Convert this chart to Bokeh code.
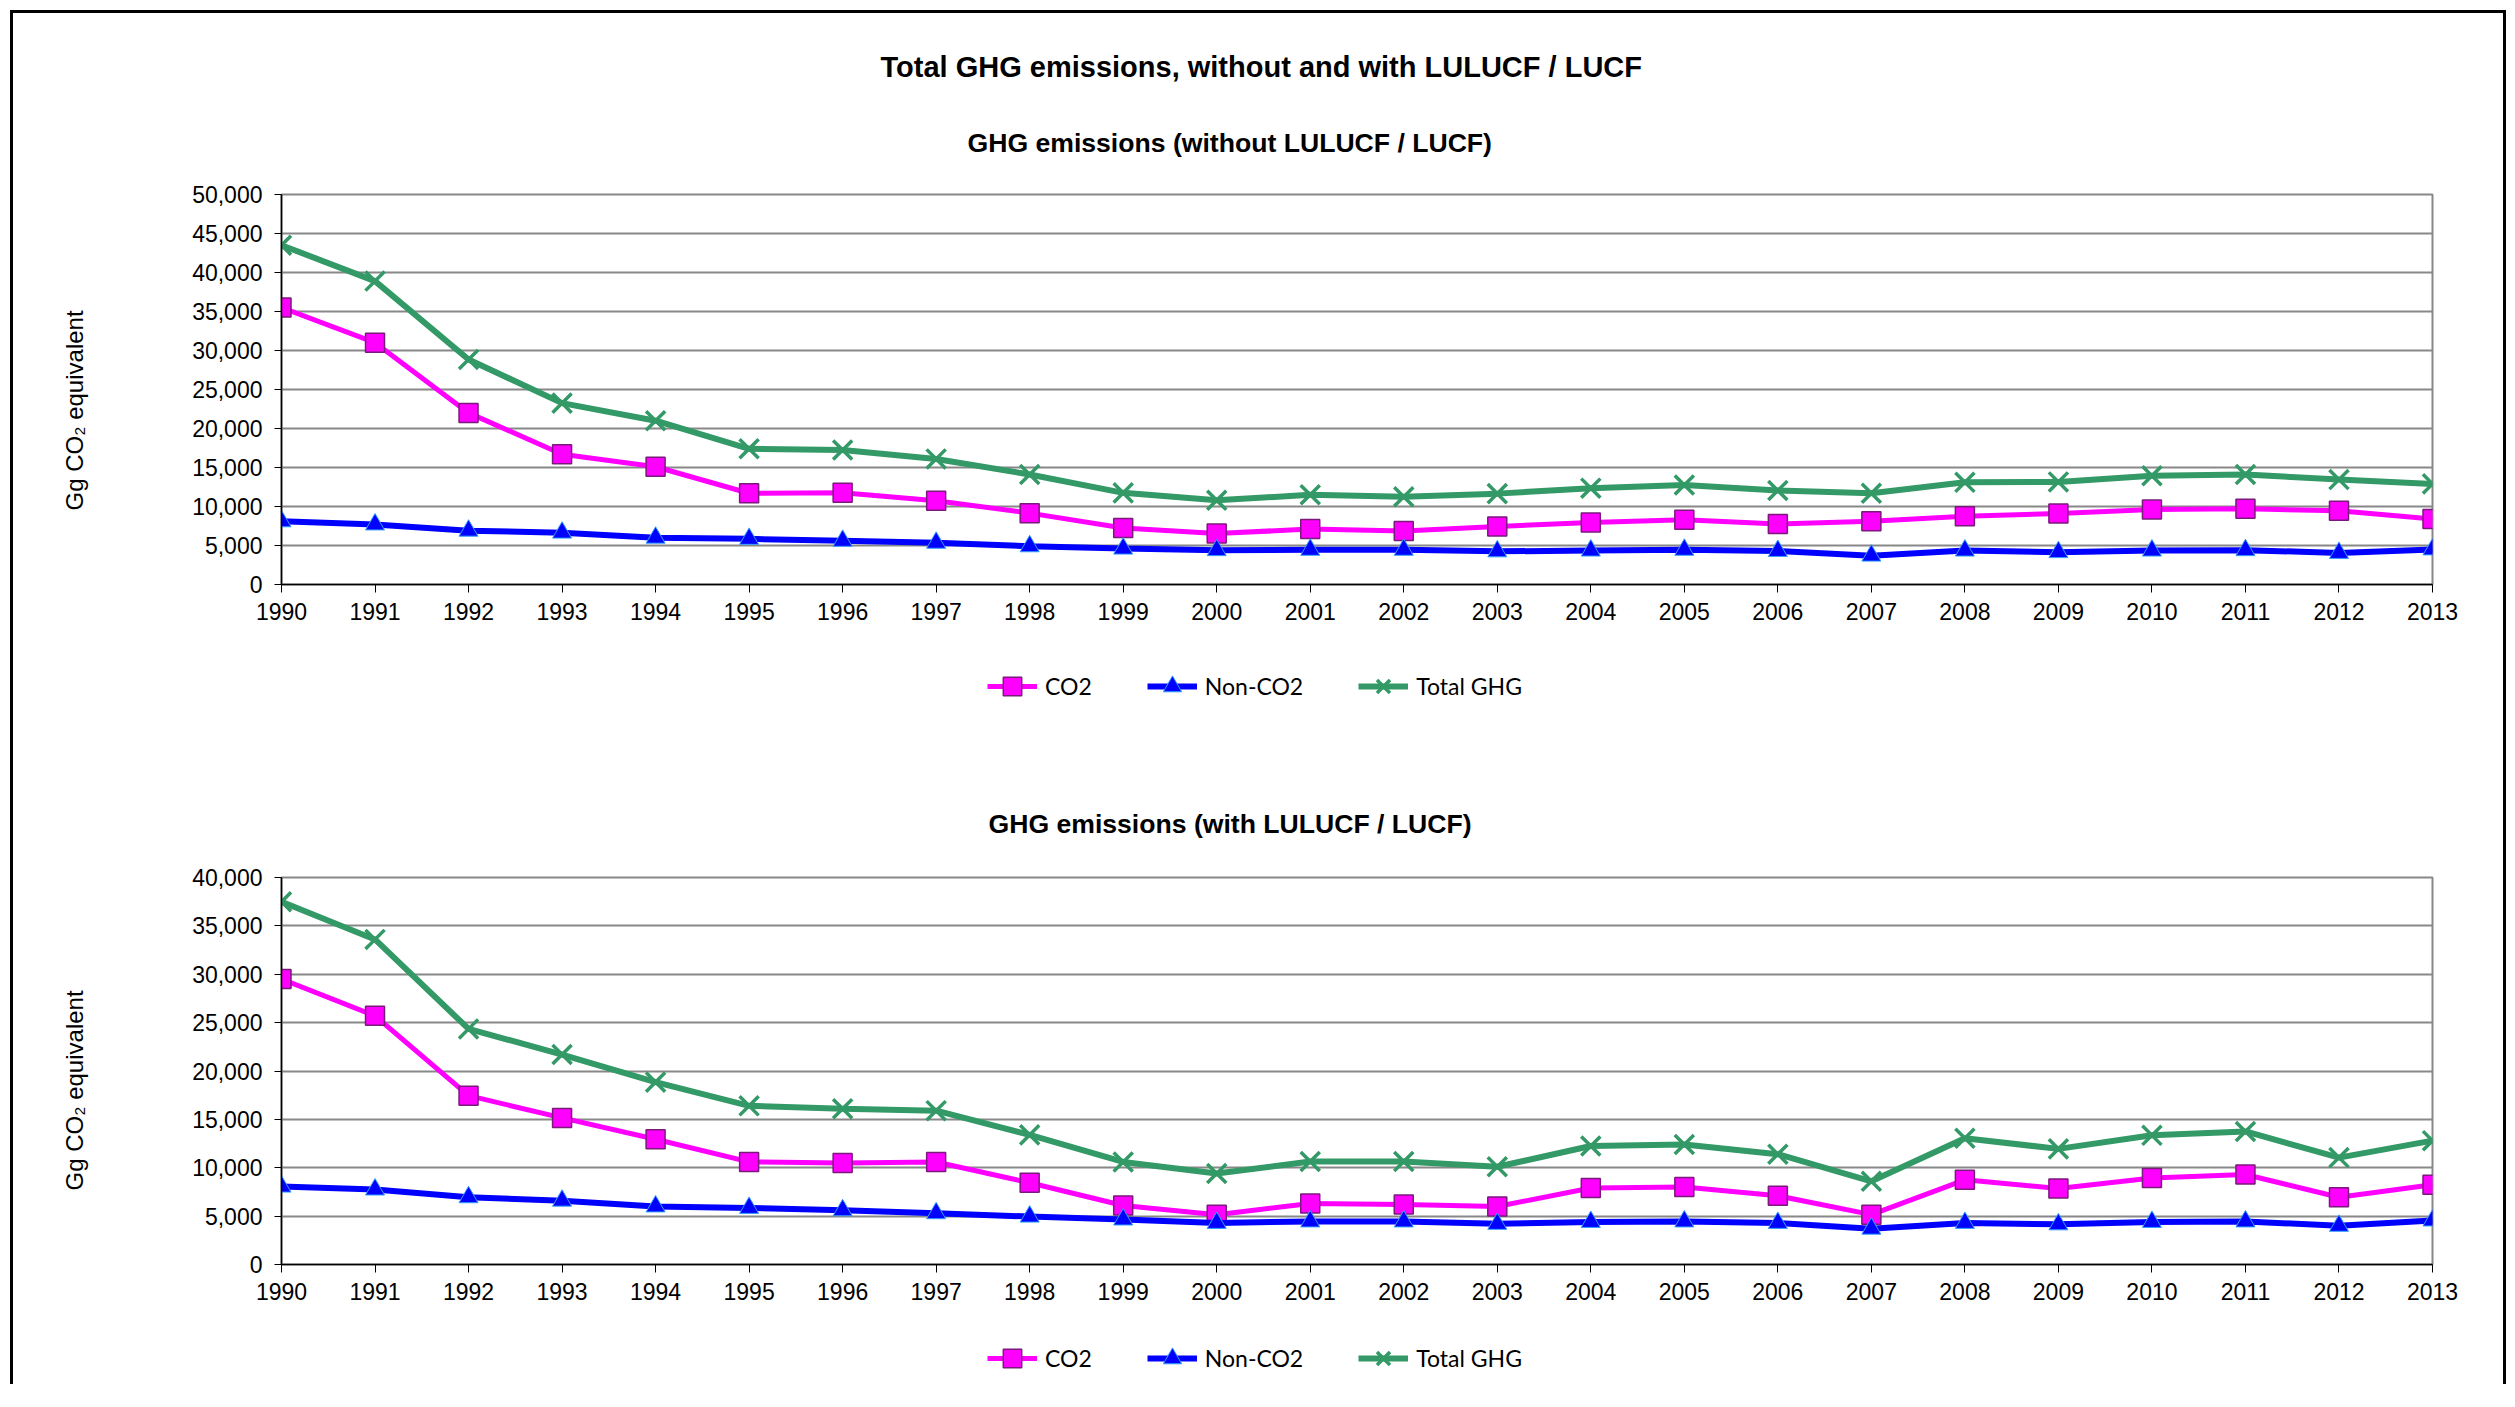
from bokeh.plotting import figure
from bokeh.models import Range1d, FixedTicker, NumeralTickFormatter, Legend, LegendItem, Title
from bokeh.layouts import column
from bokeh.embed import file_html
from bokeh.resources import INLINE

years = list(range(1990, 2014))

co2_without = [35500, 31000, 22000, 16700, 15100, 11700, 11750, 10750, 9150, 7250, 6550, 7100,
               6850, 7450, 7950, 8300, 7750, 8100, 8750, 9100, 9600, 9700, 9450, 8400]
nonco2_without = [8100, 7700, 6900, 6650, 6000, 5850, 5600, 5350, 4900, 4600, 4400, 4450,
                  4450, 4250, 4350, 4450, 4300, 3700, 4350, 4150, 4350, 4400, 4050, 4500]
total_without = [43500, 38900, 28850, 23250, 21000, 17400, 17250, 16100, 14100, 11750, 10800, 11500,
                 11250, 11650, 12350, 12750, 12050, 11700, 13100, 13150, 13950, 14100, 13450, 12900]

co2_with = [29500, 25700, 17450, 15150, 12950, 10600, 10500, 10600, 8450, 6100, 5150, 6300,
            6200, 6000, 7900, 8000, 7100, 5150, 8750, 7850, 8950, 9300, 6950, 8250]
nonco2_with = [8050, 7750, 6950, 6600, 6000, 5850, 5600, 5300, 4950, 4650, 4300, 4450,
               4450, 4200, 4400, 4450, 4300, 3700, 4300, 4150, 4400, 4450, 4000, 4550]
total_with = [37500, 33600, 24350, 21700, 18850, 16400, 16100, 15900, 13400, 10600, 9400, 10650,
              10650, 10100, 12250, 12400, 11400, 8600, 13050, 11950, 13350, 13750, 11050, 12800]

series_labels = ["CO2", "Non-CO2", "Total GHG"]
main_title = "Total GHG emissions, without and with LULUCF / LUCF"
sub_title_1 = "GHG emissions (without LULUCF / LUCF)"
sub_title_2 = "GHG emissions (with LULUCF / LUCF)"
y_label = "Gg CO\u2082 equivalent"

FONT = "Liberation Sans"
W = 2490
X0 = 13                      # page x where the figures start
LEFT = 281 - X0
RIGHT = W - (2432 - X0)
GRID = "#888888"

CO2_STYLE = dict(line_color="#FF00FF", line_width=5)
CO2_MARK = dict(marker="square", size=19, fill_color="#FF00FF", line_color="#7A1A7A", line_width=1.5)
NON_STYLE = dict(line_color="#0000FF", line_width=6)
NON_MARK = dict(marker="triangle", size=19, fill_color="#0000FF", line_color="#33A0FF", line_width=1)
TOT_STYLE = dict(line_color="#339966", line_width=6)
TOT_MARK = dict(marker="x", size=27, line_color="#339966", line_width=3.5)


def make_chart(sub_title, sub_left, ymax, co2, non, tot, top, frame_h, bottom, sub_gap,
               main=None, main_gap=None, main_left=None):
    H = top + frame_h + bottom
    p = figure(width=W, height=H, title=None,
               x_range=Range1d(1990, 2013), y_range=Range1d(0, ymax),
               output_backend="svg", toolbar_location=None,
               min_border_left=LEFT, min_border_right=RIGHT,
               min_border_top=top, min_border_bottom=bottom,
               background_fill_color="white", border_fill_color="white")
    p.outline_line_color = GRID
    p.outline_line_width = 2

    p.xgrid.visible = False
    p.ygrid.ticker = FixedTicker(ticks=list(range(0, ymax + 1, 5000)))
    p.ygrid.grid_line_color = GRID
    p.ygrid.grid_line_width = 2

    p.yaxis.ticker = FixedTicker(ticks=list(range(0, ymax + 1, 5000)))
    p.yaxis.formatter = NumeralTickFormatter(format="0,0")
    p.xaxis.ticker = FixedTicker(ticks=years)
    for ax in (p.xaxis, p.yaxis):
        ax.axis_line_color = "black"
        ax.axis_line_width = 1.5
        ax.major_tick_line_color = "black"
        ax.major_tick_line_width = 1
        ax.major_tick_in = 0
        ax.minor_tick_line_color = None
        ax.major_label_text_font = FONT
        ax.major_label_text_font_size = "23px"
        ax.major_label_text_color = "black"
    p.yaxis.major_tick_out = 7
    p.yaxis.major_label_standoff = 12
    p.xaxis.major_tick_out = 8
    p.xaxis.major_label_standoff = 10

    p.line(years, co2, **CO2_STYLE)
    p.scatter(years, co2, **CO2_MARK)
    p.line(years, non, **NON_STYLE)
    p.scatter(years, non, **NON_MARK)
    p.line(years, tot, **TOT_STYLE)
    p.scatter(years, tot, **TOT_MARK)

    # vertical axis title, placed like Excel's (slightly below the centre)
    p.add_layout(Title(text=" ", text_font_size="76px"), "left")
    p.add_layout(Title(text=y_label, align="left", offset=74, text_font=FONT,
                       text_font_size="24px", text_font_style="normal", text_color="black"), "left")

    p.add_layout(Title(text=" ", text_font_size="%dpx" % sub_gap), "above")
    p.add_layout(Title(text=sub_title, align="left", offset=sub_left - 281, text_font=FONT,
                       text_font_size="26.6px", text_font_style="bold", text_color="black"), "above")
    if main is not None:
        p.add_layout(Title(text=" ", text_font_size="%dpx" % main_gap), "above")
        p.add_layout(Title(text=main, align="left", offset=main_left - 281, text_font=FONT,
                           text_font_size="29px", text_font_style="bold", text_color="black"), "above")
    return p


def make_legend(height, leg_y, co2, non, tot):
    # legend strip; its proxy renderers sit outside the strip's (0..1) ranges
    lf = figure(width=W, height=height, x_range=Range1d(0, 1), y_range=Range1d(0, 1),
                x_axis_type=None, y_axis_type=None, output_backend="svg", toolbar_location=None,
                min_border=0, min_border_left=0, min_border_right=0, min_border_top=0,
                min_border_bottom=0, outline_line_color=None, title=None,
                background_fill_color="white", border_fill_color="white")
    l1 = lf.line(years, co2, **CO2_STYLE)
    m1 = lf.scatter(years, co2, **CO2_MARK)
    l2 = lf.line(years, non, **NON_STYLE)
    m2 = lf.scatter(years, non, **NON_MARK)
    l3 = lf.line(years, tot, **TOT_STYLE)
    m3 = lf.scatter(years, tot, **TOT_MARK)
    legend = Legend(items=[LegendItem(label=series_labels[0], renderers=[l1, m1]),
                           LegendItem(label=series_labels[1], renderers=[l2, m2]),
                           LegendItem(label=series_labels[2], renderers=[l3, m3])],
                    orientation="horizontal", location=(706, leg_y),
                    border_line_color=None, background_fill_alpha=0,
                    label_text_font="Lato", label_text_font_size="23px",
                    label_text_color="black",
                    glyph_width=50, glyph_height=46, label_standoff=8,
                    spacing=55, margin=0, padding=4)
    lf.add_layout(legend, "center")
    return lf


p1 = make_chart(sub_title_1, 967, 50000, co2_without, nonco2_without, total_without,
                top=181, frame_h=390, bottom=50, sub_gap=18,
                main=main_title, main_gap=19, main_left=880)
leg1 = make_legend(100, 25, co2_without, nonco2_without, total_without)
p2 = make_chart(sub_title_2, 988, 40000, co2_with, nonco2_with, total_with,
                top=143, frame_h=387, bottom=50, sub_gap=20)
leg2 = make_legend(70, 3, co2_with, nonco2_with, total_with)

layout = column(p1, leg1, p2, leg2, spacing=0,
                styles={"margin-left": "10px", "margin-top": "10px",
                        "border-left": "3px solid black",
                        "border-top": "3px solid black",
                        "border-right": "3px solid black"})

open("out.html", "w").write(file_html(layout, INLINE))
